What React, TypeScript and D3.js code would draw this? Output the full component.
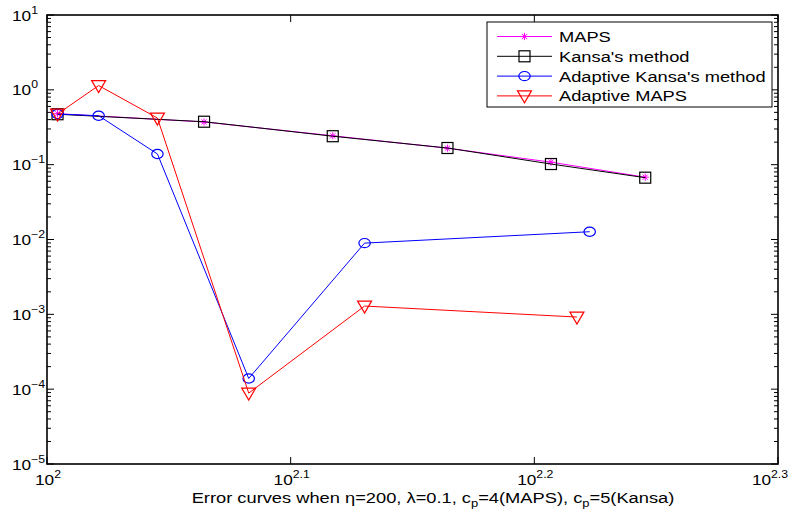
import React from "react";
import * as d3 from "d3";

// Number of nodes on each run
const xMaps = [101, 116, 131, 146, 161, 176];
const xKansa = [101, 116, 131, 146, 161, 176];
const xAdaptiveKansa = [101, 105, 111, 121, 135, 167];
const xAdaptiveMaps = [101, 105, 111, 121, 135, 165];

// Max errors
const yMaps = [0.48, 0.372, 0.243, 0.166, 0.108, 0.068];
const yKansa = [0.472, 0.375, 0.24, 0.167, 0.102, 0.067];
const yAdaptiveKansa = [0.475, 0.451, 0.139, 0.000139, 0.00895, 0.0127];
const yAdaptiveMaps = [0.475, 1.14, 0.42, 0.0000886, 0.00129, 0.00092];

const seriesNames = ["MAPS", "Kansa's method", "Adaptive Kansa's method", "Adaptive MAPS"];
const xTickExps = ["2", "2.1", "2.2", "2.3"];
const yTickExps = [-5, -4, -3, -2, -1, 0, 1];

const W = 794;
const H = 517;
const left = 47;
const right = 778;
const top = 15;
const bottom = 464;
const FONT = "'Liberation Sans', Arial, Helvetica, sans-serif";
const TICK_SX = 1.23;
const LABEL_SX = 1.18;

type Marker = "star" | "square" | "circle" | "tri";

function MarkerShape({ kind, x, y, color }: { kind: Marker; x: number; y: number; color: string }) {
  if (kind === "star") {
    const a = 3.6;
    const b = 2.6;
    return (
      <g stroke={color} strokeWidth={1}>
        <line x1={x - a} y1={y} x2={x + a} y2={y} />
        <line x1={x} y1={y - a} x2={x} y2={y + a} />
        <line x1={x - b} y1={y - b} x2={x + b} y2={y + b} />
        <line x1={x - b} y1={y + b} x2={x + b} y2={y - b} />
      </g>
    );
  }
  if (kind === "square") {
    const s = 5.5;
    return <rect x={x - s} y={y - s} width={2 * s} height={2 * s} fill="none" stroke={color} strokeWidth={1.2} />;
  }
  if (kind === "circle") {
    return <ellipse cx={x} cy={y} rx={5.7} ry={4.6} fill="none" stroke={color} strokeWidth={1.2} />;
  }
  const w = 7;
  const pts = `${x - w},${y - 5} ${x + w},${y - 5} ${x},${y + 7}`;
  return <polygon points={pts} fill="none" stroke={color} strokeWidth={1.2} />;
}

export default function App() {
  const xScale = d3.scaleLog().domain([100, Math.pow(10, 2.3)]).range([left, right]);
  const yScale = d3.scaleLog().domain([1e-5, 10]).range([bottom, top]);

  const series = [
    { name: seriesNames[0], xs: xMaps, ys: yMaps, color: "#ff00ff", marker: "star" as Marker },
    { name: seriesNames[1], xs: xKansa, ys: yKansa, color: "#000000", marker: "square" as Marker },
    { name: seriesNames[2], xs: xAdaptiveKansa, ys: yAdaptiveKansa, color: "#0000ff", marker: "circle" as Marker },
    { name: seriesNames[3], xs: xAdaptiveMaps, ys: yAdaptiveMaps, color: "#ff0000", marker: "tri" as Marker },
  ];

  const line = d3
    .line<[number, number]>()
    .x((d) => xScale(d[0]))
    .y((d) => yScale(d[1]));

  const minorY: number[] = [];
  for (let e = -5; e < 1; e++) {
    for (let k = 2; k <= 9; k++) minorY.push(k * Math.pow(10, e));
  }

  const legendX = 487;
  const legendY = 22;
  const legendW = 285;
  const legendH = 85;

  return (
    <svg width={W} height={H} style={{ position: "absolute", left: 0, top: 0, background: "#fff" }} fontFamily={FONT}>
      <rect x={0} y={0} width={W} height={H} fill="#fff" />
      {/* data */}
      <g>
        {series.map((s) => {
          const pts = s.xs.map((x, i) => [x, s.ys[i]] as [number, number]);
          return (
            <g key={s.name}>
              <path d={line(pts) || ""} fill="none" stroke={s.color} strokeWidth={1} />
              {pts.map((p, i) => (
                <MarkerShape key={i} kind={s.marker} x={xScale(p[0])} y={yScale(p[1])} color={s.color} />
              ))}
            </g>
          );
        })}
      </g>

      {/* frame */}
      <rect x={left} y={top} width={right - left} height={bottom - top} fill="none" stroke="#000" strokeWidth={1.6} />

      {/* ticks */}
      <g stroke="#000" strokeWidth={1}>
        {yTickExps.map((e) => {
          const y = yScale(Math.pow(10, e));
          return (
            <g key={"ym" + e}>
              <line x1={left} x2={left + 7} y1={y} y2={y} />
              <line x1={right} x2={right - 7} y1={y} y2={y} />
            </g>
          );
        })}
        {minorY.map((v, i) => {
          const y = yScale(v);
          return (
            <g key={"yn" + i}>
              <line x1={left} x2={left + 4} y1={y} y2={y} />
              <line x1={right} x2={right - 4} y1={y} y2={y} />
            </g>
          );
        })}
        {xTickExps.map((e) => {
          const x = xScale(Math.pow(10, parseFloat(e)));
          return (
            <g key={"xm" + e}>
              <line x1={x} x2={x} y1={bottom} y2={bottom - 7} />
              <line x1={x} x2={x} y1={top} y2={top + 7} />
            </g>
          );
        })}
      </g>

      {/* y tick labels */}
      <g fontSize={14} fill="#000">
        {yTickExps.map((e) => {
          const y = yScale(Math.pow(10, e));
          return (
            <g key={"yl" + e} transform={`translate(12,${y + 5.5}) scale(${TICK_SX},1)`}>
              <text x={0} y={0}>
                10
                <tspan fontSize={10} dy={-7}>
                  {e < 0 ? "\u2212" + Math.abs(e) : String(e)}
                </tspan>
              </text>
            </g>
          );
        })}
      </g>

      {/* x tick labels */}
      <g fontSize={14} fill="#000">
        {xTickExps.map((e) => {
          const x = Math.min(xScale(Math.pow(10, parseFloat(e))) + 1, 770);
          return (
            <g key={"xl" + e} transform={`translate(${x},485) scale(${TICK_SX},1)`}>
              <text x={0} y={0} textAnchor="middle">
                10
                <tspan fontSize={10} dy={-7}>
                  {e}
                </tspan>
              </text>
            </g>
          );
        })}
      </g>

      {/* x axis label */}
      <g transform={`translate(433,503) scale(${LABEL_SX},1)`}>
        <text x={0} y={0} fontSize={15.5} textAnchor="middle" fill="#000">
          Error curves when η=200, λ=0.1, c
          <tspan fontSize={11} dy={3.5}>p</tspan>
          <tspan dy={-3.5}>=4(MAPS), c</tspan>
          <tspan fontSize={11} dy={3.5}>p</tspan>
          <tspan dy={-3.5}>=5(Kansa)</tspan>
        </text>
      </g>

      {/* legend */}
      <g>
        <rect x={legendX} y={legendY} width={legendW} height={legendH} fill="#fff" stroke="#000" strokeWidth={1} />
        {series.map((s, i) => {
          const y = legendY + 14.5 + i * 19.8;
          return (
            <g key={"lg" + i}>
              <line x1={497} x2={552} y1={y} y2={y} stroke={s.color} strokeWidth={1} />
              <MarkerShape kind={s.marker} x={524.5} y={y} color={s.color} />
              <g transform={`translate(559,${y + 5.5}) scale(${LABEL_SX},1)`}>
                <text x={0} y={0} fontSize={15.5} fill="#000">
                  {s.name}
                </text>
              </g>
            </g>
          );
        })}
      </g>
    </svg>
  );
}
